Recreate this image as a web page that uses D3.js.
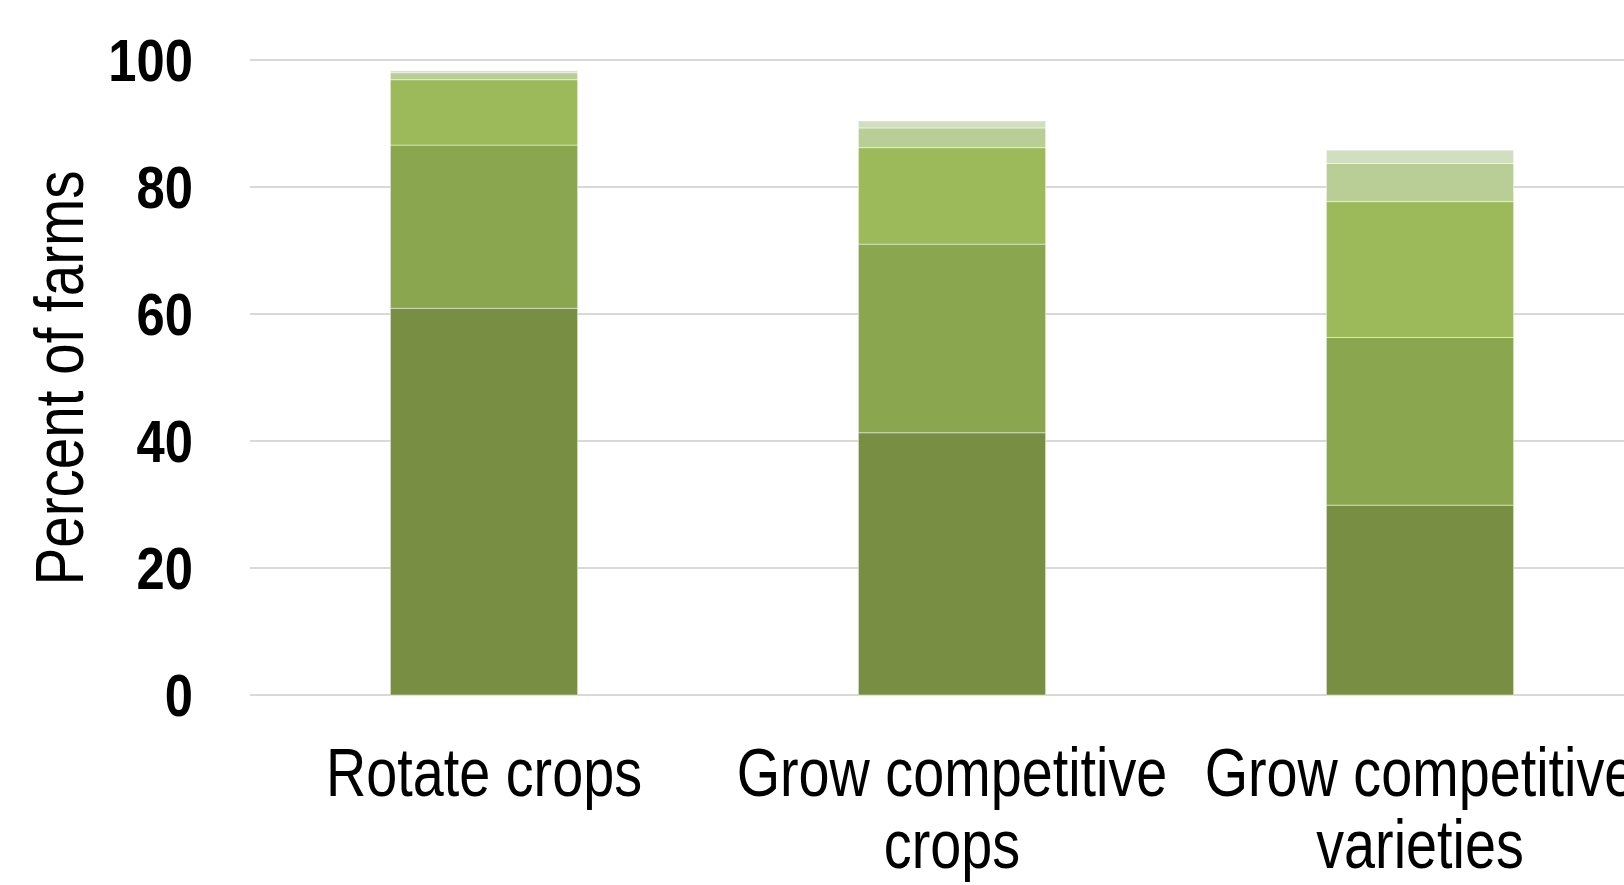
<!DOCTYPE html>
<html>
<head>
<meta charset="utf-8">
<script src="https://cdn.jsdelivr.net/npm/d3@7"></script>
<style>
  html, body { margin: 0; padding: 0; background: #fff; overflow: hidden; }
  svg { display: block; }
  text { font-family: "Liberation Sans Narrow", "Liberation Sans", Arial, sans-serif; fill: #000; }
</style>
</head>
<body>
<svg id="chart" width="1624" height="885"></svg>
<script>
// Practices (x categories), each split into stacked response groups
const categories = [
  ["Rotate crops"],
  ["Grow competitive", "crops"],
  ["Grow competitive", "varieties"]
];
const seriesNames = ["s1", "s2", "s3", "s4", "s5"];
const s1 = [60.9, 41.3, 29.9];
const s2 = [25.7, 29.7, 26.4];
const s3 = [10.3, 15.2, 21.4];
const s4 = [1.1, 3.1, 6.0];
const s5 = [0.3, 1.1, 2.1];
const yTicks = [0, 20, 40, 60, 80, 100];
const colors = ["#778e43", "#8aa64f", "#9cba5a", "#b9ce97", "#d1dec0"];

// horizontal squeeze giving a narrow typeface look
const NARROW = 0.82;
const NARROW_TICK = 0.86;

const rows = categories.map((c, i) => ({
  key: i, s1: s1[i], s2: s2[i], s3: s3[i], s4: s4[i], s5: s5[i]
}));

const svg = d3.select("#chart");
const x = d3.scaleBand()
  .domain(rows.map(d => d.key))
  .range([250, 1654])
  .paddingInner(0.6)
  .paddingOuter(0.3);
const y = d3.scaleLinear().domain([0, 100]).range([695, 60]);

// horizontal gridlines
svg.append("g")
  .selectAll("line")
  .data(yTicks)
  .join("line")
  .attr("x1", 250).attr("x2", 1624)
  .attr("y1", d => y(d)).attr("y2", d => y(d))
  .attr("stroke", "#d9d9d9")
  .attr("stroke-width", 2);

// stacked bars
const stacked = d3.stack().keys(seriesNames)(rows);
svg.append("g")
  .selectAll("g")
  .data(stacked)
  .join("g")
  .attr("fill", (d, i) => colors[i])
  .selectAll("rect")
  .data(d => d)
  .join("rect")
  .attr("x", d => x(d.data.key))
  .attr("width", x.bandwidth())
  .attr("y", d => y(d[1]))
  .attr("height", d => y(d[0]) - y(d[1]))
  .attr("stroke", "rgba(255,255,255,0.45)")
  .attr("stroke-width", 1);

// y tick labels
svg.append("g")
  .selectAll("text")
  .data(yTicks)
  .join("text")
  .attr("transform", d => `translate(193,${y(d)}) scale(${NARROW_TICK},1)`)
  .attr("dy", "0.36em")
  .attr("text-anchor", "end")
  .attr("font-size", 59)
  .attr("font-weight", "bold")
  .text(d => d);

// y axis title
svg.append("text")
  .attr("transform", `translate(83,378) rotate(-90) scale(${NARROW},1)`)
  .attr("text-anchor", "middle")
  .attr("font-size", 69)
  .text("Percent of farms");

// category labels
const lab = svg.append("g")
  .selectAll("text")
  .data(rows)
  .join("text")
  .attr("text-anchor", "middle")
  .attr("font-size", 68)
  .attr("transform", d => `translate(${x(d.key) + x.bandwidth() / 2},796) scale(${NARROW},1)`);
lab.selectAll("tspan")
  .data(d => categories[d.key])
  .join("tspan")
  .attr("x", 0)
  .attr("dy", (d, i) => i === 0 ? 0 : 72)
  .text(d => d);
</script>
</body>
</html>
